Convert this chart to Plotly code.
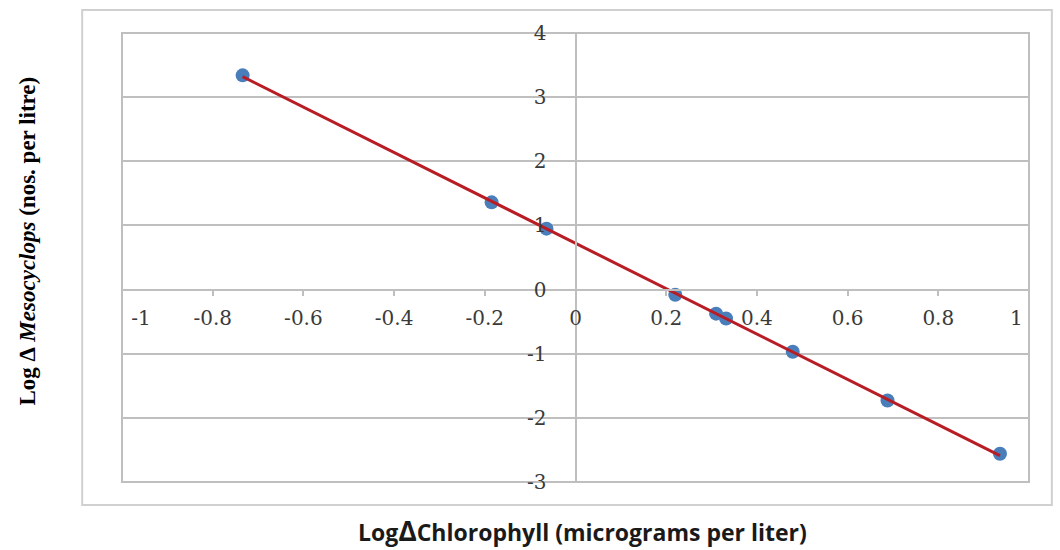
import numpy as np
import plotly.graph_objects as go

# Data
log_chl = [-0.734, -0.185, -0.064, 0.220, 0.310, 0.332, 0.479, 0.688, 0.936]
log_meso = [3.34, 1.36, 0.95, -0.08, -0.375, -0.45, -0.97, -1.73, -2.56]

NB = "\u00a0"
x_ticks = [-1, -0.8, -0.6, -0.4, -0.2, 0, 0.2, 0.4, 0.6, 0.8, 1]
x_ticktext = [NB * 6 + "-1", "-0.8", "-0.6", "-0.4", "-0.2", "0",
              "0.2", "0.4", "0.6", "0.8", "1" + NB * 4]
y_ticks = [-3, -2, -1, 0, 1, 2, 3, 4]
y_ticktext = ["-3", "-2", "-1", "0", "1", "2", "3", "4"]

# Linear trend line from the data
slope, intercept = np.polyfit(log_chl, log_meso, 1)
tx = [min(log_chl), max(log_chl)]
ty = [slope * v + intercept for v in tx]

fig = go.Figure()
fig.add_trace(go.Scatter(x=log_chl, y=log_meso, mode="markers",
                         marker=dict(color="#4A7EBB", size=14, line=dict(width=0)),
                         showlegend=False))
fig.add_trace(go.Scatter(x=tx, y=ty, mode="lines",
                         line=dict(color="#B81C24", width=3),
                         showlegend=False))

grid = "#BFBFBF"
tickfont = dict(family="DejaVu Serif", size=20, color="#3a3a3a")

fig.update_layout(
    width=1060, height=550,
    margin=dict(l=122, r=27, t=33, b=68),
    paper_bgcolor="white", plot_bgcolor="white",
    xaxis=dict(range=[-1, 1], tickvals=x_ticks, ticktext=x_ticktext,
               anchor="free", position=3/7, showgrid=False, zeroline=False,
               showline=True, linecolor=grid, linewidth=2,
               ticks="outside", ticklen=5, tickcolor=grid, tickwidth=1.5,
               ticklabelstandoff=5, tickfont=tickfont, fixedrange=True),
    yaxis=dict(range=[-3, 4], tickvals=y_ticks, ticktext=y_ticktext,
               anchor="free", position=0.5, showgrid=True, gridcolor=grid,
               gridwidth=2, zeroline=False,
               showline=True, linecolor=grid, linewidth=2,
               ticks="", ticklabelstandoff=24, tickfont=tickfont, fixedrange=True),
    shapes=[
        dict(type="rect", xref="paper", yref="paper", x0=0, x1=1, y0=0, y1=1,
             line=dict(color=grid, width=2), layer="below"),
        dict(type="rect", xref="paper", yref="paper",
             x0=-0.0439, x1=1.0252, y0=-0.0512, y1=1.0512,
             line=dict(color="#D0D0D0", width=2), layer="below"),
    ],
    annotations=[
        dict(xref="paper", yref="paper", x=0.508, y=-0.107, showarrow=False,
             text="<b>Log<span style='font-size:28px'>∆</span>Chlorophyll (micrograms per liter)</b>",
             font=dict(family="Open Sans", size=23, color="#1a1a1a"),
             xanchor="center", yanchor="middle"),
        dict(xref="paper", yref="paper", x=-0.104, y=0.537, showarrow=False,
             text="<b>Log ∆ <i>Mesocyclops</i> (nos. per litre)</b>",
             font=dict(family="Liberation Serif", size=23, color="black"),
             textangle=-90, xanchor="center", yanchor="middle"),
    ],
)

fig.write_html("out.html")
